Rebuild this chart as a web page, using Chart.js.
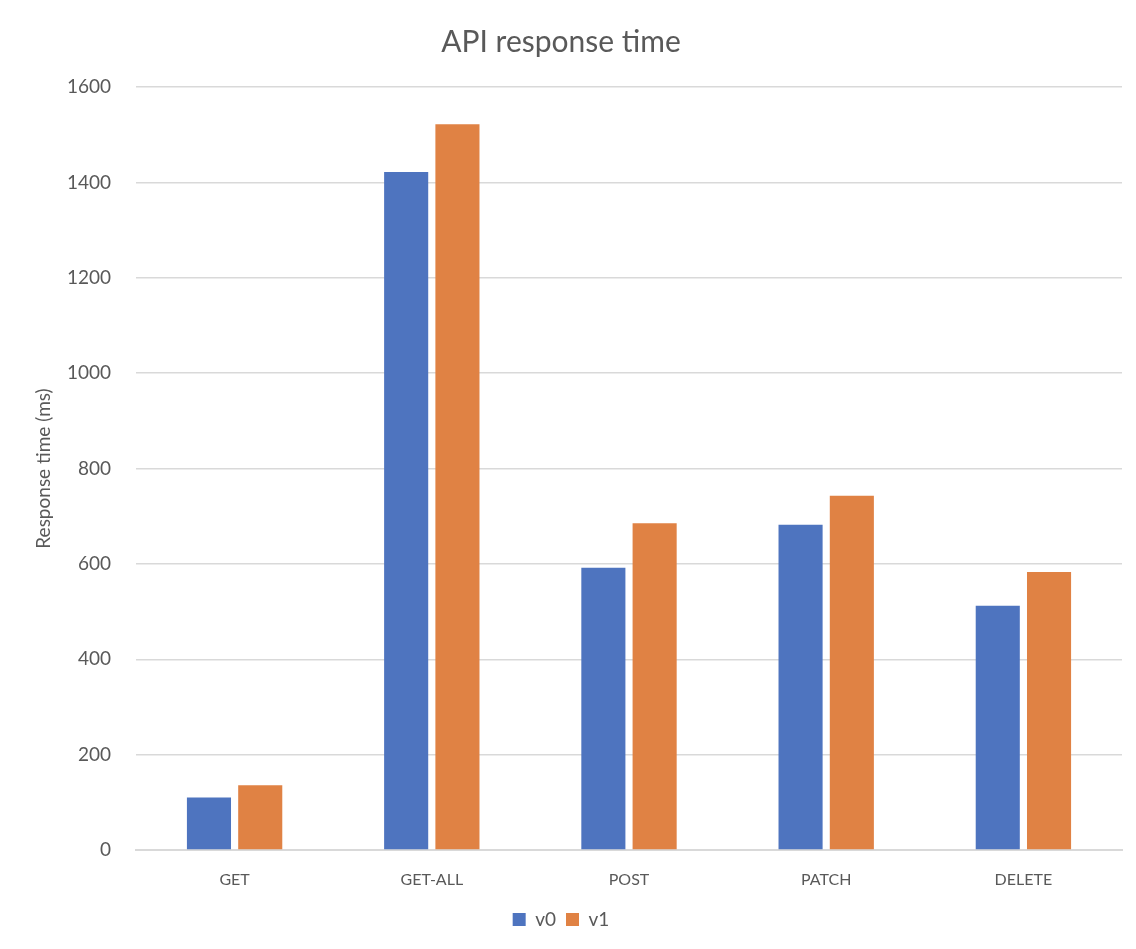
<!DOCTYPE html>
<html>
<head>
<meta charset="utf-8">
<script src="https://cdn.jsdelivr.net/npm/chart.js@4"></script>
<style>
  html, body { margin: 0; padding: 0; background: #fff; }
  #wrap { width: 1136px; height: 949px; }
</style>
</head>
<body>
<div id="wrap"><canvas id="grafico" width="1136" height="949"></canvas></div>
<script>
// datos
const categorias = ['GET', 'GET-ALL', 'POST', 'PATCH', 'DELETE'];
const serieV0 = [110, 1422, 592, 682, 512];
const serieV1 = [136, 1522, 685, 743, 583];
const ticksY = [0, 200, 400, 600, 800, 1000, 1200, 1400, 1600];

const gris = '#595959';
const fuente = 'Lato, "Open Sans", sans-serif';

new Chart(document.getElementById('grafico'), {
    type: 'bar',
    data: {
        labels: categorias,
        datasets: [
            { label: 'v0', data: serieV0, backgroundColor: '#4e74bf', categoryPercentage: 0.52, barPercentage: 0.86 },
            { label: 'v1', data: serieV1, backgroundColor: '#e08244', categoryPercentage: 0.52, barPercentage: 0.86 },
        ],
    },
    options: {
        responsive: false,
        animation: false,
        layout: { padding: { top: 24, right: 14, bottom: 10, left: 0 } },
        plugins: {
            title: {
                display: true,
                text: 'API response time',
                color: gris,
                font: { family: fuente, size: 30, weight: 'normal' },
                padding: { top: 0, bottom: 27 },
            },
            legend: {
                position: 'bottom',
                labels: {
                    color: gris,
                    font: { family: fuente, size: 19 },
                    boxWidth: 13,
                    boxHeight: 13,
                    padding: 10,
                },
            },
            tooltip: { enabled: false },
        },
        scales: {
            x: {
                grid: { display: false, drawTicks: false },
                border: { color: '#d9d9d9', width: 2 },
                ticks: { color: gris, font: { family: fuente, size: 16 }, padding: 20 },
                afterFit: (s) => { s.height = 50; },
            },
            y: {
                min: 0,
                max: 1600,
                afterBuildTicks: (s) => { s.ticks = ticksY.map((v) => ({ value: v })); },
                grid: { color: '#d9d9d9', lineWidth: 1.5, drawTicks: false },
                border: { display: false },
                ticks: {
                    color: gris,
                    font: { family: fuente, size: 19 },
                    padding: 25,
                    callback: (v) => String(v),
                },
                title: {
                    display: true,
                    text: 'Response time (ms)',
                    color: gris,
                    font: { family: fuente, size: 19 },
                    padding: { top: 32, bottom: 0 },
                },
                afterFit: (s) => { s.width = 136; },
            },
        },
    },
});
</script>
</body>
</html>
